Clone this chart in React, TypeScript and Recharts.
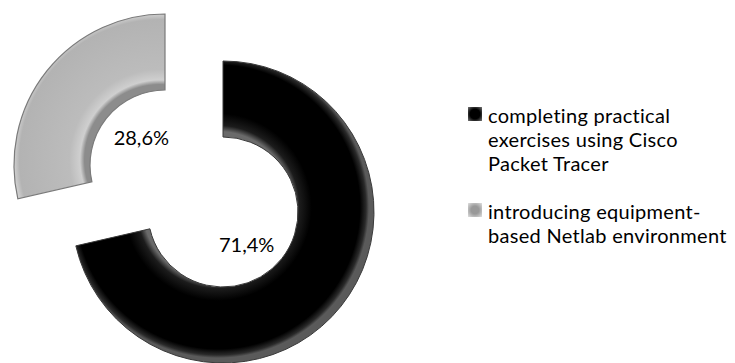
import React from "react";
import { Cell, Legend, Pie, PieChart } from "recharts";

const categories = [
  "completing practical exercises using Cisco Packet Tracer",
  "introducing equipment-based Netlab environment",
];
const shares = [71.4, 28.6];
const percentLabels = ["71,4%", "28,6%"];
const legendLines = [
  ["completing practical", "exercises using Cisco", "Packet Tracer"],
  ["introducing equipment-", "based Netlab environment"],
];

const data = categories.map((name, i) => ({ name, value: shares[i] }));

const FONT = "Lato, 'Open Sans', sans-serif";
const fills = ["url(#blackBevel)", "url(#grayBevel)"];
const iconFills = ["url(#blackIcon)", "url(#grayIcon)"];

// each ring is drawn by its own Pie so the small slice can sit exploded
const makeLabel = (only: number) => (props: any) => {
  const { cx, cy, midAngle, index } = props;
  if (index !== only) return null;
  const RADIAN = Math.PI / 180;
  const r = 38;
  const a = (-midAngle + 13) * RADIAN;
  const x = cx + r * Math.cos(a);
  const y = cy + r * Math.sin(a) + 2;
  return (
    <text
      x={x}
      y={y}
      fill="#000"
      textAnchor="middle"
      dominantBaseline="central"
      fontFamily={FONT}
      fontSize={20}
    >
      {percentLabels[index]}
    </text>
  );
};

const LegendBox = () => (
  <div style={{ fontFamily: FONT, fontSize: 20, lineHeight: "24px", letterSpacing: 0.3, color: "#000" }}>
    {legendLines.map((lines, i) => (
      <div key={i} style={{ position: "relative", paddingLeft: 20, marginBottom: 24 }}>
        <svg width={14} height={14} style={{ position: "absolute", left: 0, top: 4 }}>
          <rect x={0} y={0} width={14} height={14} fill={iconFills[i]} />
        </svg>
        {lines.map((l, j) => (
          <div key={j} style={{ whiteSpace: "nowrap" }}>{l}</div>
        ))}
      </div>
    ))}
  </div>
);

export default function App() {
  return (
    <div style={{ position: "absolute", left: 0, top: 0, width: 735, height: 363, background: "#fff" }}>
      <PieChart width={735} height={363}>
        <defs>
          <radialGradient id="blackBevel" gradientUnits="userSpaceOnUse" cx={218} cy={207} r={151}>
            <stop offset="0.5" stopColor="#6a6a6a" />
            <stop offset="0.54" stopColor="#1c1c1c" />
            <stop offset="0.62" stopColor="#000" />
            <stop offset="0.94" stopColor="#000" />
            <stop offset="0.98" stopColor="#2a2a2a" />
            <stop offset="1" stopColor="#5a5a5a" />
          </radialGradient>
          <radialGradient id="grayBevel" gradientUnits="userSpaceOnUse" cx={160} cy={160} r={151}>
            <stop offset="0.5" stopColor="#8c8c8c" />
            <stop offset="0.53" stopColor="#cfcfcf" />
            <stop offset="0.6" stopColor="#bcbcbc" />
            <stop offset="0.93" stopColor="#b3b3b3" />
            <stop offset="0.97" stopColor="#d2d2d2" />
            <stop offset="1" stopColor="#7c7c7c" />
          </radialGradient>
          <radialGradient id="blackIcon" cx="0.5" cy="0.5" r="0.7">
            <stop offset="0.5" stopColor="#000" />
            <stop offset="1" stopColor="#777" />
          </radialGradient>
          <radialGradient id="grayIcon" cx="0.5" cy="0.5" r="0.7">
            <stop offset="0.4" stopColor="#999" />
            <stop offset="1" stopColor="#e0e0e0" />
          </radialGradient>
        </defs>
        <Pie
          data={data}
          dataKey="value"
          nameKey="name"
          cx={218}
          cy={207}
          innerRadius={75}
          outerRadius={151}
          startAngle={90}
          endAngle={-270}
          stroke="none"
          labelLine={false}
          label={makeLabel(0)}
          isAnimationActive={false}
        >
          {data.map((_, i) => (
            <Cell key={`a-${i}`} fill={i === 0 ? fills[0] : "none"} stroke={i === 0 ? "#3a3a3a" : "none"} strokeWidth={1} />
          ))}
        </Pie>
        <Pie
          data={data}
          dataKey="value"
          nameKey="name"
          cx={160}
          cy={160}
          innerRadius={75}
          outerRadius={151}
          startAngle={90}
          endAngle={-270}
          stroke="none"
          labelLine={false}
          label={makeLabel(1)}
          isAnimationActive={false}
        >
          {data.map((_, i) => (
            <Cell key={`b-${i}`} fill={i === 1 ? fills[1] : "none"} stroke={i === 1 ? "#7a7a7a" : "none"} strokeWidth={1.2} />
          ))}
        </Pie>
        <Legend
          layout="vertical"
          content={() => <LegendBox />}
          wrapperStyle={{ left: 468, top: 103, width: 267 }}
        />
      </PieChart>
    </div>
  );
}
